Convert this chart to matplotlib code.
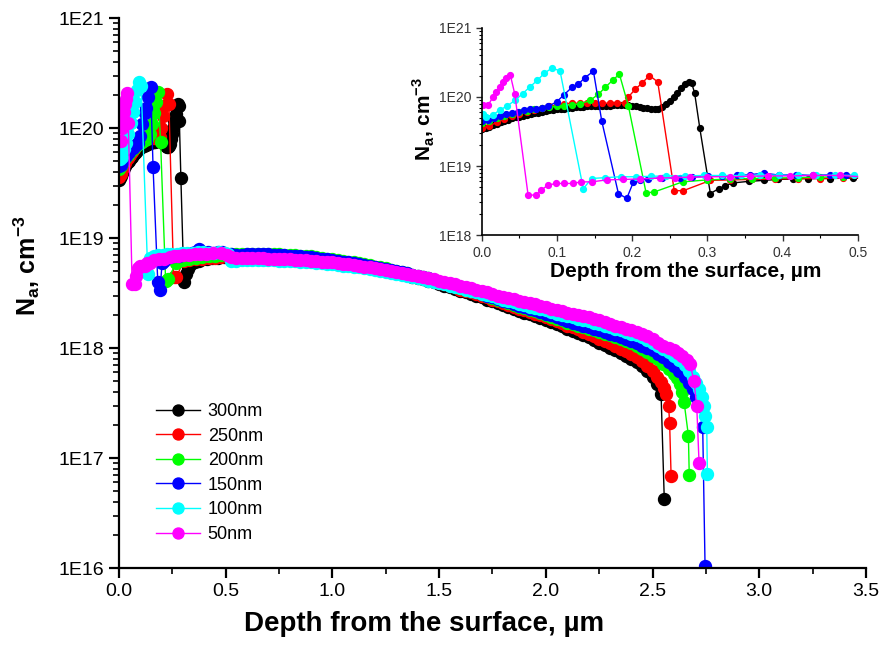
import matplotlib
matplotlib.use("Agg")
import matplotlib.pyplot as plt
from matplotlib.ticker import FixedLocator, FuncFormatter, LogLocator, NullFormatter, MultipleLocator
import numpy as np

plt.rcParams["font.family"] = ["Liberation Sans", "DejaVu Sans"]
plt.rcParams["mathtext.fontset"] = "custom"
plt.rcParams["mathtext.rm"] = "Liberation Sans"
plt.rcParams["mathtext.bf"] = "Liberation Sans:bold"

# all concentrations in units of 1E18 cm^-3, depths in um
LABELS = ["300nm", "250nm", "200nm", "150nm", "100nm", "50nm"]
COLORS = ["#000000", "#ff0000", "#00ff00", "#0000ff", "#00ffff", "#ff00ff"]

# ---- near-surface part ----
D300_S = [0.000, 0.005, 0.010, 0.015, 0.020, 0.025, 0.030, 0.035, 0.040, 0.045,
          0.050, 0.055, 0.060, 0.065, 0.070, 0.075, 0.080, 0.085, 0.090, 0.095,
          0.100, 0.105, 0.110, 0.115, 0.120, 0.125, 0.130, 0.135, 0.140, 0.145,
          0.150, 0.155, 0.160, 0.165, 0.170, 0.175, 0.180, 0.185, 0.190, 0.195,
          0.200, 0.205, 0.210, 0.215, 0.220, 0.225, 0.230, 0.235, 0.240, 0.245,
          0.250, 0.255, 0.260, 0.265, 0.270, 0.275, 0.279, 0.283, 0.290, 0.304,
          0.315, 0.324, 0.334, 0.355, 0.375, 0.394, 0.414, 0.434, 0.463, 0.494]
N300_S = [34, 35, 37, 39, 41, 43, 45, 47, 49, 50.5,
          52, 53.5, 55, 56.5, 58, 59.5, 61, 62.5, 64, 65,
          66, 67, 68, 69, 70, 70.5, 71, 72, 73, 73.5,
          74, 74.5, 75, 75, 75, 75.5, 76, 76, 76, 75.5,
          75, 74, 72, 70, 68.5, 67.5, 67, 68, 72, 79,
          88, 100, 115, 135, 155, 165, 160, 115, 35, 4.0,
          4.7, 5.2, 5.7, 6.0, 6.2, 6.4, 6.5, 6.6, 6.6, 6.7]

D250_S = [0.000, 0.010, 0.020, 0.030, 0.040, 0.050, 0.060, 0.070, 0.080, 0.090,
          0.100, 0.110, 0.120, 0.130, 0.140, 0.150, 0.160, 0.170, 0.180, 0.190,
          0.195, 0.204, 0.213, 0.223, 0.234, 0.256, 0.268, 0.304, 0.330, 0.360,
          0.390, 0.420, 0.450, 0.480, 0.505]
N250_S = [36, 38, 43, 48, 53, 57, 61, 65, 69, 73,
          77, 80, 81, 81, 81, 81, 81, 81, 81, 82,
          100, 129, 158, 204, 165, 4.4, 4.4, 6.2, 6.3, 6.4,
          6.5, 6.6, 6.6, 6.7, 6.8]

D200_S = [0.000, 0.010, 0.020, 0.030, 0.040, 0.050, 0.060, 0.070, 0.080, 0.090,
          0.100, 0.110, 0.120, 0.130, 0.144, 0.155, 0.164, 0.174, 0.183, 0.195,
          0.2185, 0.229, 0.267, 0.300, 0.330, 0.360, 0.390, 0.420, 0.450, 0.480,
          0.505]
N200_S = [42, 45, 49, 53, 57, 60, 63, 66, 69, 71,
          73, 75, 77, 79, 89, 109, 137, 174, 214, 74,
          4.1, 4.2, 5.9, 6.3, 6.5, 6.6, 6.7, 6.8, 6.9, 7.0,
          7.0]

D150_S = [0.000, 0.008, 0.016, 0.024, 0.032, 0.040, 0.048, 0.056, 0.064, 0.072,
          0.080, 0.088, 0.0997, 0.1095, 0.1197, 0.1285, 0.137, 0.1485, 0.1596, 0.1817,
          0.1928, 0.2017, 0.210, 0.2216, 0.240, 0.263, 0.280, 0.301, 0.320, 0.340,
          0.357, 0.375, 0.395, 0.418, 0.440, 0.463, 0.485, 0.505]
N150_S = [45, 46, 49, 53, 56, 59, 61, 64, 66, 68,
          70, 73, 85, 108, 137, 153, 190, 235, 44.5, 4.0,
          3.4, 5.9, 6.2, 6.6, 6.7, 6.8, 6.9, 7.1, 7.2, 7.3,
          7.5, 7.9, 7.4, 7.5, 7.3, 7.5, 7.4, 7.2]

D100_S = [0.0017, 0.006, 0.015, 0.024, 0.033, 0.044, 0.0545, 0.064, 0.074, 0.083,
          0.093, 0.104, 0.135, 0.146, 0.164, 0.185, 0.205, 0.225, 0.245, 0.270,
          0.295, 0.320, 0.345, 0.370, 0.395, 0.420, 0.445, 0.470, 0.495, 0.510]
N100_S = [57, 52, 55, 65, 73, 89, 112, 140, 174, 220,
          260, 240, 4.7, 6.6, 6.8, 7.0, 7.0, 7.1, 7.2, 7.2,
          7.3, 7.3, 7.3, 7.4, 7.4, 7.3, 7.3, 7.4, 7.3, 7.2]

D50_S = [0.0017, 0.0084, 0.015, 0.0195, 0.024, 0.028, 0.0327, 0.038, 0.0439, 0.0616,
         0.0727, 0.0793, 0.088, 0.099, 0.110, 0.121, 0.132, 0.146, 0.166, 0.188,
         0.210, 0.237, 0.257, 0.277, 0.300, 0.330, 0.357, 0.380, 0.410, 0.440,
         0.476, 0.505]
N50_S = [76, 76, 100, 118, 140, 165, 185, 207, 110, 3.8,
         3.8, 4.5, 5.3, 5.6, 5.6, 5.6, 5.9, 5.9, 6.3, 6.4,
         6.5, 6.7, 6.8, 6.9, 7.0, 7.0, 7.1, 7.2, 7.2, 7.3,
         7.3, 7.0]

# ---- bulk part, common depth grid ----
BULK_D = [0.525, 0.550, 0.575, 0.600, 0.625, 0.650, 0.675, 0.700, 0.725, 0.750,
          0.775, 0.800, 0.825, 0.850, 0.875, 0.900, 0.925, 0.950, 0.975, 1.000,
          1.025, 1.050, 1.075, 1.100, 1.125, 1.150, 1.175, 1.200, 1.225, 1.250,
          1.275, 1.300, 1.325, 1.350, 1.375, 1.400, 1.425, 1.450, 1.475, 1.500,
          1.525, 1.550, 1.575, 1.600, 1.625, 1.650, 1.675, 1.700, 1.725, 1.750,
          1.775, 1.800, 1.825, 1.850, 1.875, 1.900, 1.925, 1.950, 1.975, 2.000,
          2.025, 2.050, 2.075, 2.100, 2.125, 2.150, 2.175, 2.200, 2.225, 2.250,
          2.275, 2.300, 2.325, 2.350, 2.375, 2.400, 2.425]
N300_B = [6.6, 6.6, 6.7, 6.7, 6.7, 6.7, 6.7, 6.7, 6.6, 6.6,
          6.6, 6.6, 6.5, 6.5, 6.4, 6.4, 6.3, 6.3, 6.2, 6.1,
          6.0, 5.9, 5.8, 5.7, 5.6, 5.5, 5.4, 5.3, 5.15, 5.0,
          4.9, 4.8, 4.7, 4.6, 4.45, 4.3, 4.2, 4.1, 3.95, 3.8,
          3.7, 3.6, 3.45, 3.3, 3.2, 3.1, 3.0, 2.9, 2.75, 2.65,
          2.55, 2.45, 2.35, 2.25, 2.18, 2.1, 2.02, 1.95, 1.88, 1.8,
          1.72, 1.65, 1.58, 1.5, 1.44, 1.38, 1.31, 1.25, 1.18, 1.12,
          1.06, 1.0, 0.95, 0.9, 0.85, 0.8, 0.74]
N250_B = [6.8, 6.8, 6.85, 6.9, 6.9, 6.9, 6.9, 6.9, 6.85, 6.8,
          6.75, 6.7, 6.65, 6.6, 6.55, 6.5, 6.45, 6.4, 6.3, 6.2,
          6.1, 6.0, 5.9, 5.8, 5.7, 5.6, 5.5, 5.4, 5.25, 5.1,
          5.0, 4.9, 4.8, 4.7, 4.55, 4.4, 4.3, 4.2, 4.05, 3.9,
          3.8, 3.7, 3.55, 3.4, 3.3, 3.2, 3.1, 3.0, 2.88, 2.75,
          2.65, 2.55, 2.45, 2.35, 2.28, 2.2, 2.12, 2.05, 1.98, 1.9,
          1.82, 1.75, 1.68, 1.6, 1.54, 1.48, 1.41, 1.35, 1.28, 1.22,
          1.16, 1.1, 1.04, 0.98, 0.93, 0.88, 0.82]
N200_B = [7.1, 7.1, 7.15, 7.2, 7.2, 7.2, 7.2, 7.2, 7.15, 7.1,
          7.05, 7.0, 6.95, 6.9, 6.85, 6.8, 6.7, 6.6, 6.5, 6.4,
          6.3, 6.2, 6.1, 6.0, 5.9, 5.8, 5.65, 5.5, 5.4, 5.3,
          5.15, 5.0, 4.9, 4.8, 4.65, 4.5, 4.4, 4.3, 4.15, 4.0,
          3.9, 3.8, 3.65, 3.5, 3.4, 3.3, 3.2, 3.1, 2.98, 2.85,
          2.75, 2.65, 2.55, 2.45, 2.38, 2.3, 2.22, 2.15, 2.08, 2.0,
          1.92, 1.85, 1.78, 1.7, 1.65, 1.6, 1.55, 1.5, 1.45, 1.4,
          1.35, 1.3, 1.25, 1.2, 1.15, 1.1, 1.04]
N150_B = [7.1, 7.0, 7.05, 7.1, 7.1, 7.1, 7.1, 7.1, 7.05, 7.0,
          6.95, 6.9, 6.85, 6.8, 6.75, 6.7, 6.6, 6.5, 6.4, 6.3,
          6.2, 6.1, 6.0, 5.9, 5.8, 5.7, 5.6, 5.5, 5.35, 5.2,
          5.1, 5.0, 4.9, 4.8, 4.65, 4.5, 4.4, 4.3, 4.15, 4.0,
          3.9, 3.8, 3.7, 3.6, 3.45, 3.3, 3.2, 3.1, 3.0, 2.9,
          2.8, 2.7, 2.6, 2.5, 2.42, 2.35, 2.28, 2.2, 2.12, 2.05,
          1.98, 1.9, 1.82, 1.75, 1.7, 1.65, 1.6, 1.55, 1.5, 1.45,
          1.4, 1.35, 1.3, 1.25, 1.2, 1.15, 1.1]
N100_B = [6.2, 6.2, 6.25, 6.3, 6.3, 6.3, 6.3, 6.3, 6.25, 6.2,
          6.2, 6.2, 6.15, 6.1, 6.05, 6.0, 5.95, 5.9, 5.85, 5.8,
          5.7, 5.6, 5.55, 5.5, 5.4, 5.3, 5.2, 5.1, 5.0, 4.9,
          4.8, 4.7, 4.6, 4.5, 4.4, 4.3, 4.2, 4.1, 4.0, 3.9,
          3.8, 3.7, 3.6, 3.5, 3.4, 3.3, 3.2, 3.1, 3.02, 2.95,
          2.85, 2.75, 2.68, 2.6, 2.52, 2.45, 2.38, 2.3, 2.25, 2.2,
          2.12, 2.05, 2.0, 1.95, 1.9, 1.85, 1.8, 1.75, 1.7, 1.65,
          1.6, 1.55, 1.5, 1.45, 1.4, 1.35, 1.3]
N50_B = [6.7, 6.6, 6.6, 6.6, 6.6, 6.6, 6.55, 6.5, 6.5, 6.5,
         6.45, 6.4, 6.35, 6.3, 6.25, 6.2, 6.15, 6.1, 6.05, 6.0,
         5.9, 5.8, 5.75, 5.7, 5.6, 5.5, 5.4, 5.3, 5.2, 5.1,
         5.0, 4.9, 4.8, 4.7, 4.6, 4.5, 4.4, 4.3, 4.2, 4.1,
         4.0, 3.9, 3.8, 3.7, 3.6, 3.5, 3.4, 3.3, 3.2, 3.1,
         3.0, 2.9, 2.85, 2.8, 2.7, 2.6, 2.55, 2.5, 2.42, 2.35,
         2.28, 2.2, 2.15, 2.1, 2.05, 2.0, 1.95, 1.9, 1.85, 1.8,
         1.72, 1.65, 1.6, 1.55, 1.5, 1.45, 1.4]

# ---- deep tail ----
D300_T = [2.45, 2.475, 2.50, 2.52, 2.54, 2.555]
N300_T = [0.68, 0.62, 0.54, 0.47, 0.38, 0.042]
D250_T = [2.45, 2.475, 2.50, 2.52, 2.54, 2.555, 2.565, 2.575, 2.580, 2.587]
N250_T = [0.76, 0.69, 0.62, 0.55, 0.49, 0.43, 0.38, 0.30, 0.21, 0.068]
D200_T = [2.45, 2.475, 2.50, 2.525, 2.55, 2.575, 2.60, 2.615, 2.63, 2.64, 2.648, 2.668, 2.672]
N200_T = [0.98, 0.92, 0.85, 0.79, 0.72, 0.65, 0.58, 0.53, 0.47, 0.40, 0.32, 0.16, 0.07]
D150_T = [2.45, 2.475, 2.50, 2.525, 2.55, 2.575, 2.60, 2.625, 2.65, 2.67, 2.69, 2.705, 2.72,
          2.735, 2.746]
N150_T = [1.05, 1.0, 0.95, 0.89, 0.82, 0.75, 0.68, 0.62, 0.55, 0.48, 0.42, 0.36, 0.30,
          0.19, 0.0105]
D100_T = [2.45, 2.475, 2.50, 2.525, 2.55, 2.575, 2.60, 2.625, 2.65, 2.67, 2.69, 2.705, 2.72,
          2.73, 2.74, 2.748, 2.754, 2.757]
N100_T = [1.25, 1.18, 1.12, 1.05, 0.98, 0.92, 0.85, 0.78, 0.70, 0.62, 0.55, 0.48, 0.42,
          0.36, 0.30, 0.24, 0.19, 0.071]
D50_T = [2.45, 2.475, 2.50, 2.525, 2.55, 2.575, 2.60, 2.62, 2.64, 2.66, 2.676, 2.694, 2.707,
         2.718]
N50_T = [1.35, 1.28, 1.20, 1.12, 1.05, 1.0, 0.95, 0.90, 0.85, 0.78, 0.72, 0.50, 0.30,
         0.09]

SERIES = [
    (D300_S, N300_S, N300_B, D300_T, N300_T),
    (D250_S, N250_S, N250_B, D250_T, N250_T),
    (D200_S, N200_S, N200_B, D200_T, N200_T),
    (D150_S, N150_S, N150_B, D150_T, N150_T),
    (D100_S, N100_S, N100_B, D100_T, N100_T),
    (D50_S, N50_S, N50_B, D50_T, N50_T),
]


def e_fmt(v, pos):
    return "1E%d" % int(round(np.log10(v)))


def style_log_axis(a, decades):
    a.set_yscale("log")
    a.yaxis.set_major_locator(FixedLocator(decades))
    a.yaxis.set_major_formatter(FuncFormatter(e_fmt))
    a.yaxis.set_minor_locator(LogLocator(base=10, subs=np.arange(2, 10), numticks=20))
    a.yaxis.set_minor_formatter(NullFormatter())
    a.xaxis.set_major_formatter(FuncFormatter(lambda v, p: "%.1f" % v))
    for s in ["top", "right"]:
        a.spines[s].set_visible(False)


fig = plt.figure(figsize=(8.84, 6.55), dpi=100)
ax = fig.add_axes([0.1346, 0.1328, 0.845, 0.8397])

for (ds, ns, nb, dt, nt), lab, c in zip(SERIES, LABELS, COLORS):
    x = np.array(ds + BULK_D + dt)
    y = np.array(ns + nb + nt) * 1e18
    ax.plot(x, y, "-o", color=c, mec=c, mfc=c, lw=1.0, ms=8.6, label=lab)

style_log_axis(ax, [1e16, 1e17, 1e18, 1e19, 1e20, 1e21])
ax.set_xlim(0, 3.5)
ax.set_ylim(1e16, 1e21)
ax.xaxis.set_major_locator(MultipleLocator(0.5))
ax.xaxis.set_minor_locator(MultipleLocator(0.25))
for s in ["left", "bottom"]:
    ax.spines[s].set_linewidth(1.6)
ax.tick_params(which="major", direction="out", length=7, width=1.6, labelsize=14)
ax.tick_params(which="minor", direction="out", length=4, width=1.2)
ax.set_xlabel("Depth from the surface, \u00b5m", fontsize=20, fontweight="bold")
ax.xaxis.set_label_coords(0.408, -0.078)
ax.set_ylabel(r"N$_\mathbf{a}$, cm$^\mathbf{-3}$", fontsize=18, fontweight="bold")
ax.yaxis.set_label_coords(-0.103, 0.55)

ax.legend(loc="upper left", bbox_to_anchor=(0.05, 0.30), frameon=False, fontsize=13,
          handlelength=2.4, handletextpad=0.45, labelspacing=0.42, borderpad=0,
          borderaxespad=0, markerscale=0.92)

# ---- inset ----
axi = fig.add_axes([0.545, 0.641, 0.4253, 0.3165])
for (ds, ns, nb, dt, nt), lab, c in zip(SERIES, LABELS, COLORS):
    x = np.array(ds + BULK_D + dt)
    y = np.array(ns + nb + nt) * 1e18
    axi.plot(x, y, "-o", color=c, mec=c, mfc=c, lw=1.0, ms=4.2)
style_log_axis(axi, [1e18, 1e19, 1e20, 1e21])
axi.set_xlim(0, 0.5)
axi.set_ylim(1e18, 1e21)
axi.xaxis.set_major_locator(MultipleLocator(0.1))
axi.xaxis.set_minor_locator(MultipleLocator(0.05))
for s in ["left", "bottom"]:
    axi.spines[s].set_linewidth(1.2)
axi.tick_params(which="major", direction="out", length=4, width=1.0, labelsize=10, colors="#333333")
axi.tick_params(which="minor", direction="out", length=2, width=0.8)
axi.set_xlabel("Depth from the surface, \u00b5m", fontsize=15, fontweight="bold")
axi.xaxis.set_label_coords(0.543, -0.13)
axi.set_ylabel(r"N$_\mathbf{a}$, cm$^\mathbf{-3}$", fontsize=15, fontweight="bold")
axi.yaxis.set_label_coords(-0.118, 0.56)

fig.savefig("out.png", dpi=100)
